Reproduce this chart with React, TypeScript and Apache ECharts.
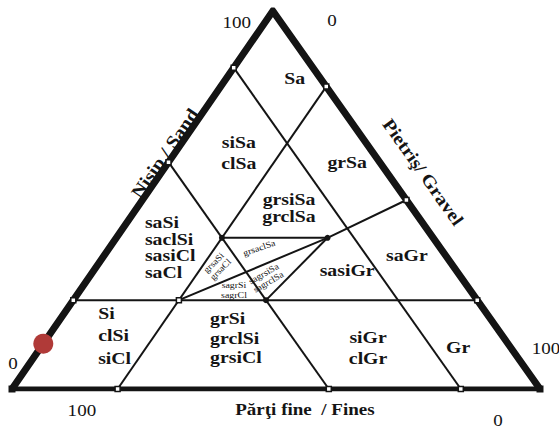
import React, { useEffect, useRef } from "react";
import * as echarts from "echarts";

// Ternary points are written as [sand %, gravel %]; fines = 100 - sand - gravel.
const FINES_BOUNDS = [15, 40];
const GRAVEL_BOUNDS = [20];
const SAND_BOUNDS = [23.5];
const INNER_SEGMENTS: number[][][] = [
  [[40, 20], [40, 40]],
  [[23.5, 20], [40, 40], [50, 50]],
  [[23.5, 36.5], [40, 40]],
];
const EDGE_TICKS = [
  [85, 0], [60, 0], [23.5, 0],
  [80, 20], [50, 50], [23.5, 76.5],
  [0, 20], [0, 60], [0, 85],
];
const CORNERS = [[0, 0], [0, 100]];
const JUNCTIONS = [[40, 20], [40, 40], [23.5, 36.5]];
const OPEN_JUNCTIONS = [[23.5, 20]];
const SAMPLE = [[12, 0]];

const ZONE_TEXT = [
  "Sa", "siSa\nclSa", "grSa", "grsiSa\ngrclSa", "saSi\nsaclSi\nsasiCl\nsaCl",
  "Si\nclSi\nsiCl", "grSi\ngrclSi\ngrsiCl", "sasiGr", "saGr", "siGr\nclGr", "Gr",
];
const ZONE_AT = [
  [82.3, 12.9], [62.7, 12.0], [60.1, 33.8], [48.1, 28.7], [37.6, 6.6],
  [14.2, 9.3], [13.6, 30.8], [31.5, 47.9], [35.4, 57.3], [11.0, 62.0], [11.1, 79.0],
];
const SMALL_TEXT = ["grsaSi\ngrsaCl", "grsaclSa", "sagrsiSa\nsagrclSa", "sagrSi\nsagrCl"];
const SMALL_AT = [[32.5, 22.8], [37.3, 28.4], [29.4, 33.6], [26.2, 29.1]];
const AXIS_TITLES = ["Nisip / Sand", "Pietriş/ Gravel", "Părţi fine  / Fines"];
const AXIS_TITLE_AT = [[62.4, -1.9], [57.4, 49.5], [-5.3, 58.1]];
const TICK_LABELS = ["100", "0", "0", "100", "100", "0"];
const TICK_LABEL_AT = [[97.1, -5.4], [97.6, 12.4], [6.9, -3.2], [-5.6, 16.0], [10.8, 95.8], [-8.2, 96.1]];

const APEX = 0.494;
const toXY = (p: number[]) => [p[1] / 100 + (p[0] / 100) * APEX, p[0] / 100];

const INK = "#141414";
const SERIF = "'Liberation Serif', 'Times New Roman', serif";

type Lab = { text: string; at: number[]; size: number; weight: string; align: string; lh: number; rot: number; sx: number };

export default function App() {
  const ref = useRef<HTMLDivElement>(null);
  useEffect(() => {
    if (!ref.current) return;
    const chart = echarts.init(ref.current, undefined, { renderer: "svg" });

    const fullLines: number[][][] = [];
    FINES_BOUNDS.forEach((f) => fullLines.push([[100 - f, 0], [0, 100 - f]]));
    GRAVEL_BOUNDS.forEach((g) => fullLines.push([[100 - g, g], [0, g]]));
    SAND_BOUNDS.forEach((s) => fullLines.push([[s, 0], [s, 100 - s]]));
    const segs = fullLines.concat(INNER_SEGMENTS);

    const labels: Lab[] = [];
    const zoneAlign = ["center", "center", "center", "center", "left", "left", "left", "center", "center", "center", "center"];
    const zoneLh = [17, 21, 17, 17, 16.7, 22.5, 19.5, 17, 17, 21, 17];
    ZONE_TEXT.forEach((t, i) =>
      labels.push({ text: t, at: ZONE_AT[i], size: 17.5, weight: "bold", align: zoneAlign[i], lh: zoneLh[i], rot: 0, sx: 1.13 })
    );
    const smallRot = [45, 19, 30, 0];
    SMALL_TEXT.forEach((t, i) =>
      labels.push({ text: t, at: SMALL_AT[i], size: 9, weight: "normal", align: "center", lh: 9.5, rot: smallRot[i], sx: 1.1 })
    );
    const titleRot = [55.4, -54.8, 0];
    const titleSize = [18, 18, 17];
    AXIS_TITLES.forEach((t, i) =>
      labels.push({ text: t, at: AXIS_TITLE_AT[i], size: titleSize[i], weight: "bold", align: "center", lh: 20, rot: titleRot[i], sx: 1.12 })
    );
    TICK_LABELS.forEach((t, i) =>
      labels.push({ text: t, at: TICK_LABEL_AT[i], size: 17, weight: "normal", align: "center", lh: 20, rot: 0, sx: 1.12 })
    );

    const series: any[] = segs.map((seg) => ({
      type: "line",
      data: seg.map(toXY),
      symbol: "none",
      lineStyle: { color: INK, width: 2 },
      z: 2,
      silent: true,
    }));
    series.push({
      type: "line",
      data: [[0, 0], [100, 0], [0, 100]].map(toXY),
      symbol: "none",
      lineStyle: { color: INK, width: 7, join: "miter", miterLimit: 10 },
      z: 3,
      silent: true,
    });
    series.push({
      type: "line",
      data: [[0, 0], [0, 100]].map(toXY),
      symbol: "none",
      lineStyle: { color: INK, width: 5 },
      z: 3,
      silent: true,
    });
    series.push({
      type: "scatter",
      data: CORNERS.map(toXY),
      symbol: "rect",
      symbolSize: 7,
      itemStyle: { color: INK, opacity: 1 },
      z: 4,
      silent: true,
    });
    series.push({
      type: "scatter",
      data: JUNCTIONS.map(toXY),
      symbol: "circle",
      symbolSize: 6,
      itemStyle: { color: INK, opacity: 1 },
      z: 4,
      silent: true,
    });
    series.push({
      type: "scatter",
      data: EDGE_TICKS.concat(OPEN_JUNCTIONS).map(toXY),
      symbol: "rect",
      symbolSize: 5,
      itemStyle: { color: "#ffffff", borderColor: INK, borderWidth: 1.5, opacity: 1 },
      z: 5,
      silent: true,
    });
    series.push({
      type: "scatter",
      data: SAMPLE.map(toXY),
      symbol: "circle",
      symbolSize: 20,
      itemStyle: { color: "#b03a38", opacity: 1 },
      z: 6,
      silent: true,
    });
    series.push({
      type: "custom",
      clip: false,
      z: 7,
      silent: true,
      itemStyle: { color: INK },
      data: labels.map((l) => toXY(l.at)),
      renderItem: (params: any, api: any) => {
        const l = labels[params.dataIndex];
        const p = api.coord([api.value(0), api.value(1)]);
        return {
          type: "text",
          x: p[0],
          y: p[1],
          rotation: (l.rot * Math.PI) / 180,
          scaleX: l.sx,
          style: {
            text: l.text,
            fontSize: l.size,
            fontFamily: SERIF,
            fontWeight: l.weight,
            fill: INK,
            align: l.align,
            verticalAlign: "middle",
            lineHeight: l.lh,
          },
        };
      },
    });

    chart.setOption({
      animation: false,
      backgroundColor: "#ffffff",
      grid: { left: 12, top: 11, width: 528, height: 378 },
      xAxis: { type: "value", min: 0, max: 1, show: false },
      yAxis: { type: "value", min: 0, max: 1, show: false },
      series,
    });
    return () => chart.dispose();
  }, []);
  return (
    <div
      ref={ref}
      style={{ position: "fixed", left: 0, top: 0, width: 559, height: 428, background: "#fff" }}
    />
  );
}
